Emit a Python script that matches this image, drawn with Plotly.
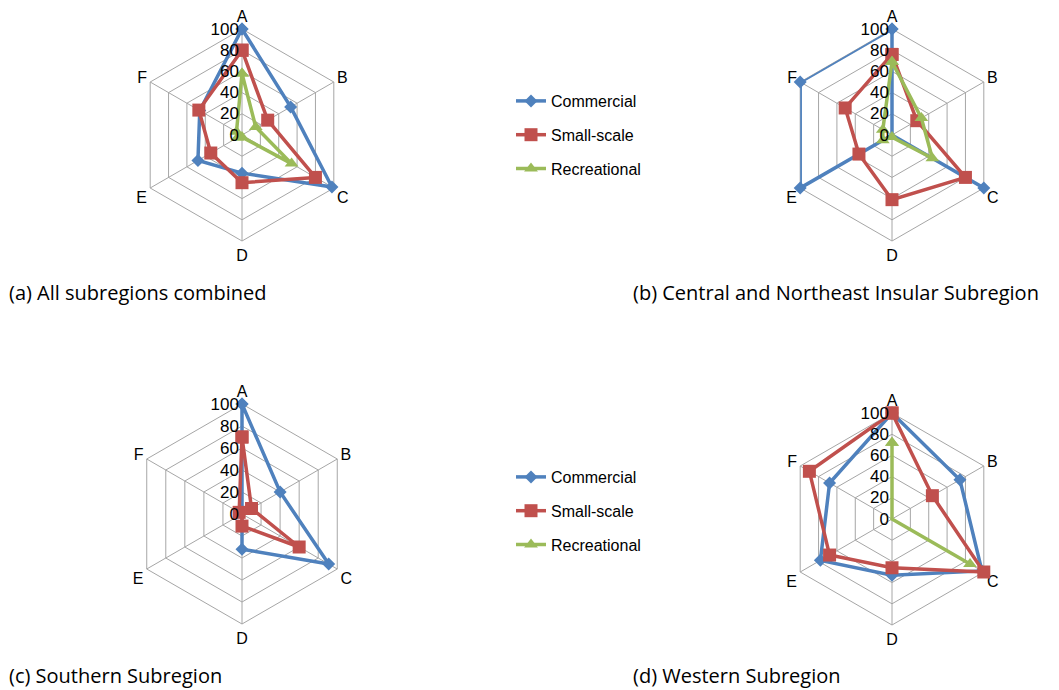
import plotly.graph_objects as go

# Fishing sector scores on six criteria (A-F), per subregion
axes_labels = ["A", "B", "C", "D", "E", "F"]
sectors = ["Commercial", "Small-scale", "Recreational"]

all_commercial = [100, 53, 98, 36, 48, 46]
all_smallscale = [80, 28, 80, 45, 34, 47]
all_recreational = [58, 15, 54, 2, 5, 6]

cni_commercial = [100, 0, 100, 0, 100, 100]
cni_smallscale = [76, 27, 80, 61, 36, 51]
cni_recreational = [69, 32, 44, 2, 10, 10]

south_commercial = [100, 40, 91, 32, 0, 0]
south_smallscale = [70, 10, 60, 11, 0, 3]
south_recreational = [0, 0, 0, 0, 0, 0]

west_commercial = [100, 74, 98, 53, 78, 68]
west_smallscale = [100, 44, 100, 46, 68, 90]
west_recreational = [72, 0, 85, 0, 0, 0]

panel_titles = [
    "(a) All subregions combined",
    "(b) Central and Northeast Insular Subregion",
    "(c) Southern Subregion",
    "(d) Western Subregion",
]

panels = [
    [all_commercial, all_smallscale, all_recreational],
    [cni_commercial, cni_smallscale, cni_recreational],
    [south_commercial, south_smallscale, south_recreational],
    [west_commercial, west_smallscale, west_recreational],
]

W, H = 1059, 690
# panel centres and radii in pixels
centres = [(242, 135, 106), (892, 135, 106), (242, 514, 110), (892, 519, 106)]
# title anchors: (left x, top-of-box y measured from top) for upper row, bottom row sits on the edge
title_pos = [(8, 292, "middle"), (632, 292, "middle"), (8, 690, "bottom"), (632, 690, "bottom")]

colors = ["#4F81BD", "#C0504D", "#9BBB59"]
symbols = ["diamond", "square", "triangle-up"]
msizes = [10, 13, 12]
grid_col = "#A6A6A6"
label_font = dict(family="Liberation Sans, Arial", size=16, color="black")
tick_font = dict(family="Liberation Sans, Arial", size=17, color="black")

fig = go.Figure()

for p, series in enumerate(panels):
    polar_name = "polar" if p == 0 else f"polar{p + 1}"
    legend_name = "legend" if p < 2 else "legend2"
    for s, vals in enumerate(series):
        fig.add_trace(go.Scatterpolar(
            r=vals + vals[:1],
            theta=axes_labels + axes_labels[:1],
            mode="lines+markers",
            name=sectors[s],
            line=dict(color=colors[s], width=3.5),
            marker=dict(symbol=symbols[s], size=msizes[s], color=colors[s]),
            subplot=polar_name,
            legend=legend_name,
            legendgroup=f"{legend_name}-{s}",
            showlegend=(p in (0, 2)),
        ))

    cx, cy, rad = centres[p]
    polar = dict(
        domain=dict(
            x=[(cx - rad) / W, (cx + rad) / W],
            y=[(H - cy - rad) / H, (H - cy + rad) / H],
        ),
        gridshape="linear",
        bgcolor="white",
        radialaxis=dict(
            range=[0, 100],
            dtick=20,
            angle=90,
            tickangle=90,
            side="counterclockwise",
            showline=False,
            ticks="",
            gridcolor=grid_col,
            gridwidth=1,
            layer="above traces",
            tickfont=tick_font,
        ),
        angularaxis=dict(
            type="category",
            categoryarray=axes_labels,
            rotation=90,
            direction="clockwise",
            showline=True,
            linecolor=grid_col,
            linewidth=1,
            gridcolor=grid_col,
            ticks="",
            layer="below traces",
            tickfont=label_font,
        ),
    )
    fig.update_layout(**{polar_name: polar})

    tx, ty, anchor = title_pos[p]
    fig.add_annotation(
        text=panel_titles[p],
        xref="paper", yref="paper",
        x=tx / W, y=(H - ty) / H,
        xanchor="left", yanchor=anchor,
        showarrow=False,
        borderpad=0,
        font=dict(family="Open Sans", size=20, color="black"),
    )

legend_style = dict(
    xanchor="left", yanchor="top",
    bgcolor="rgba(0,0,0,0)",
    font=label_font,
    traceorder="grouped",
    tracegroupgap=10,
)

fig.update_layout(
    width=W, height=H,
    margin=dict(l=0, r=0, t=0, b=0),
    paper_bgcolor="white",
    plot_bgcolor="white",
    legend=dict(x=511 / W, y=(H - 84) / H, **legend_style),
    legend2=dict(x=511 / W, y=(H - 460) / H, **legend_style),
)

fig.write_html("out.html")
